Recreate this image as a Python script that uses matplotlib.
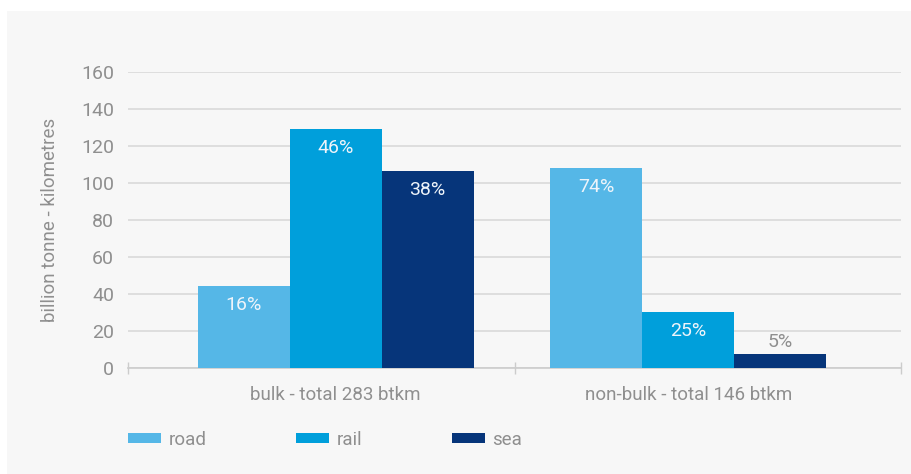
import matplotlib
matplotlib.use('Agg')
import matplotlib.pyplot as plt
from matplotlib.patches import Rectangle, Patch
import numpy as np

# data (billion tonne-km)
categories = ['bulk - total 283 btkm', 'non-bulk - total 146 btkm']
modes = ['road', 'rail', 'sea']
road = [44.5, 108.1]
rail = [129.2, 30.3]
sea = [106.5, 7.6]
shares = [['16%', '74%'], ['46%', '25%'], ['38%', '5%']]

colors = ['#55b7e7', '#009fdb', '#06357a']
grey = '#8f8f8f'

plt.rcParams['font.family'] = ['Roboto', 'DejaVu Sans']

fig = plt.figure(figsize=(9.11, 4.74), dpi=100)
fig.patch.set_facecolor('white')
fig.patches.append(Rectangle((7 / 911, 0), 904 / 911, 463 / 474, transform=fig.transFigure,
                             facecolor='#f7f7f7', edgecolor='none', zorder=-10))

ax = fig.add_axes([128 / 911, 106 / 474, 773 / 911, 296 / 474])
ax.set_facecolor('none')

centres = np.array([0.537, 1.450])  # group centres in category units
width = 0.238
series = [road, rail, sea]
for k, vals in enumerate(series):
    xs = centres + (k - 1) * width
    ax.bar(xs, vals, width=width, color=colors[k], zorder=3, label=modes[k])
    for x, v, s in zip(xs, vals, shares[k]):
        if v > 15:
            ax.text(x, v - 10.5, s, ha='center', va='center', color='#eef4fa',
                    fontsize=14, zorder=4)
        else:
            ax.text(x, v + 6.5, s, ha='center', va='center', color=grey,
                    fontsize=14, zorder=4)

ax.set_xlim(0, 2)
ax.set_ylim(0, 160)
ax.set_yticks(np.arange(0, 161, 20))
ax.yaxis.grid(True, color='#d9d9d9', linewidth=1.2, zorder=1)
ax.set_axisbelow(True)

ax.set_xticks(centres)
ax.set_xticklabels(categories)
ax.set_xticks([0, 1, 2], minor=True)
ax.tick_params(axis='x', which='major', length=0, pad=13, labelsize=13.5, labelcolor=grey)
ax.tick_params(axis='x', which='minor', direction='inout', length=9, color='#cccccc', width=1)
ax.tick_params(axis='y', length=0, pad=10, labelsize=14, labelcolor=grey)

for side in ['top', 'right', 'left']:
    ax.spines[side].set_visible(False)
ax.spines['bottom'].set_color('#cccccc')
ax.spines['bottom'].set_linewidth(1.2)

ax.set_ylabel('billion tonne - kilometres', color=grey, fontsize=13.5, labelpad=16)

handles = [Patch(facecolor=c, edgecolor='none') for c in colors]
leg = fig.legend(handles, modes, loc='center left', bbox_to_anchor=(128 / 911, 34 / 474),
                 ncol=3, frameon=False, borderpad=0, borderaxespad=0,
                 handlelength=1.75, handleheight=0.45, handletextpad=0.4,
                 columnspacing=4.8, fontsize=13.5)
for t in leg.get_texts():
    t.set_color(grey)

fig.savefig('out.png', dpi=100)
